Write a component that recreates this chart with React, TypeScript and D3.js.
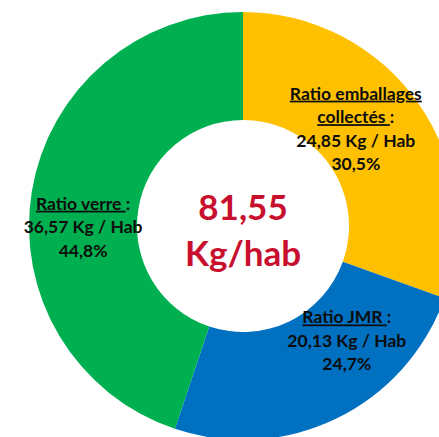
import React from "react";
import * as d3 from "d3";

// chart values (kg per inhabitant), clockwise from 12 o'clock
const categories = ["Ratio emballages collectés", "Ratio JMR", "Ratio verre"];
const kgValues = [24.85, 20.13, 36.57];
const percentLabels = ["30,5%", "24,7%", "44,8%"];
const kgLabels = ["24,85 Kg / Hab", "20,13 Kg / Hab", "36,57 Kg / Hab"];
// title lines, underlined part of each line
const titleLines = [["Ratio emballages", "collectés "], ["Ratio JMR "], ["Ratio verre "]];
const totalLabel = "81,55";
const unitLabel = "Kg/hab";

const colors = ["#FFC000", "#0070C0", "#00B050"];
// label nudges from the slice centroid
const labelShift = [
  [-18, 1],
  [34, -23],
  [-2, 33],
];

const W = 439;
const H = 437;
const cx = 243;
const cy = 226;
const outerR = 214;
const innerR = 106;
const lineH = 23.5;

export default function App() {
  const pie = d3.pie<number>().sort(null).value((d) => d);
  const arcs = pie(kgValues);
  const arc = d3.arc<d3.PieArcDatum<number>>().innerRadius(innerR).outerRadius(outerR);

  return (
    <svg
      width={W}
      height={H}
      style={{ position: "fixed", left: 0, top: 0, background: "#fff" }}
      fontFamily="Lato, 'Open Sans', sans-serif"
      fontWeight="bold"
    >
      <g transform={`translate(${cx},${cy})`}>
        {arcs.map((a, i) => (
          <path key={categories[i]} d={arc(a) || ""} fill={colors[i]} />
        ))}
        {arcs.map((a, i) => {
          const [x, y] = arc.centroid(a);
          const lines = titleLines[i];
          const n = lines.length + 2;
          const x0 = x + labelShift[i][0];
          const y0 = y + labelShift[i][1] - ((n - 1) * lineH) / 2;
          return (
            <text key={"l" + i} x={x0} y={y0} textAnchor="middle" fontSize={17.5} fill="#0d0d0d">
              {lines.map((t, j) => (
                <tspan key={j} x={x0} dy={j === 0 ? 0 : lineH}>
                  <tspan textDecoration="underline">{t}</tspan>
                  {j === lines.length - 1 ? ":" : ""}
                </tspan>
              ))}
              <tspan x={x0} dy={lineH}>{kgLabels[i]}</tspan>
              <tspan x={x0} dy={lineH}>{percentLabels[i]}</tspan>
            </text>
          );
        })}
        <text textAnchor="middle" fill="#C8102E" fontSize={35}>
          <tspan x={0} y={-6}>{totalLabel}</tspan>
          <tspan x={0} y={40}>{unitLabel}</tspan>
        </text>
      </g>
    </svg>
  );
}
